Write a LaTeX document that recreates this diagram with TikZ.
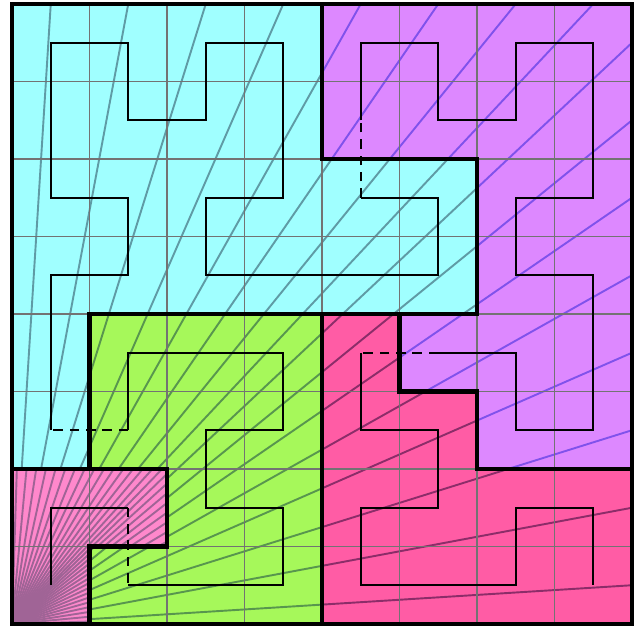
\documentclass[tikz,border=0pt]{standalone}
\usepackage{tikz}

\definecolor{cianreg}{RGB}{160,255,255}
\definecolor{lilareg}{RGB}{221,136,255}
\definecolor{verdereg}{RGB}{166,248,90}
\definecolor{rosareg}{RGB}{255,136,204}
\definecolor{fucsiareg}{RGB}{255,92,165}
\definecolor{ciantrazo}{RGB}{95,155,165}
\definecolor{lilatrazo}{RGB}{128,82,235}
\definecolor{verdetrazo}{RGB}{88,150,78}
\definecolor{rosatrazo}{RGB}{160,100,150}
\definecolor{fucsiatrazo}{RGB}{140,45,105}

% contornos de las regiones
\def\regrosa{(0,0) -- (1,0) -- (1,1) -- (2,1) -- (2,2) -- (0,2) -- cycle}
\def\regverde{(1,0) -- (4,0) -- (4,4) -- (1,4) -- (1,2) -- (2,2) -- (2,1) -- (1,1) -- cycle}
\def\regcian{(0,2) -- (1,2) -- (1,4) -- (6,4) -- (6,6) -- (4,6) -- (4,8) -- (0,8) -- cycle}
\def\reglila{(4,8) -- (8,8) -- (8,2) -- (6,2) -- (6,3) -- (5,3) -- (5,4) -- (6,4) -- (6,6) -- (4,6) -- cycle}
\def\regfucsia{(4,0) -- (8,0) -- (8,2) -- (6,2) -- (6,3) -- (5,3) -- (5,4) -- (4,4) -- cycle}

\begin{document}
\begin{tikzpicture}[
    borde/.style={line width=1.5pt, black},
    camino/.style={line width=0.8pt, black},
    salto/.style={camino, dash pattern=on 3.5pt off 2.5pt},
    rejilla/.style={black!55, line width=0.4pt},
    rayo/.style={line width=0.7pt}]
    \useasboundingbox (-0.155,-0.065) rectangle (8.065,8.052);

    % regiones con su abanico de rayos
    \begin{scope}
        \clip \regrosa;
        \fill[rosareg] \regrosa;
        \foreach \k in {0,...,15}
            \draw[rayo, rosatrazo] (0,0) -- ({(\k+0.5)/2},8) (0,0) -- (8,{(\k+0.5)/2});
    \end{scope}
    \begin{scope}
        \clip \regverde;
        \fill[verdereg] \regverde;
        \foreach \k in {0,...,7}
            \draw[rayo, verdetrazo] (0,0) -- (\k+0.5,8) (0,0) -- (8,\k+0.5);
    \end{scope}
    \begin{scope}
        \clip \regcian;
        \fill[cianreg] \regcian;
        \foreach \k in {0,...,7}
            \draw[rayo, ciantrazo] (0,0) -- (\k+0.5,8) (0,0) -- (8,\k+0.5);
    \end{scope}
    \begin{scope}
        \clip \reglila;
        \fill[lilareg] \reglila;
        \foreach \k in {0,...,7}
            \draw[rayo, lilatrazo] (0,0) -- (\k+0.5,8) (0,0) -- (8,\k+0.5);
    \end{scope}
    \begin{scope}
        \clip \regfucsia;
        \fill[fucsiareg] \regfucsia;
        \foreach \k in {0,...,7}
            \draw[rayo, fucsiatrazo] (0,0) -- (\k+0.5,8) (0,0) -- (8,\k+0.5);
    \end{scope}

    \draw[rejilla] (0,0) grid (8,8);

    \draw[borde] \regrosa;
    \draw[borde] \regverde;
    \draw[borde] \regcian;
    \draw[borde] \reglila;
    \draw[borde] \regfucsia;
    \draw[borde] (0,0) rectangle (8,8);

    % curva de Hilbert
    \draw[camino] (0.5,0.5) -- (0.5,1.5) -- (1.5,1.5);
    \draw[salto] (1.5,1.5) -- (1.5,0.5);
    \draw[camino] (1.5,0.5) -- (3.5,0.5) -- (3.5,1.5) -- (2.5,1.5) -- (2.5,2.5) -- (3.5,2.5)
        -- (3.5,3.5) -- (1.5,3.5) -- (1.5,2.5);
    \draw[salto] (1.5,2.5) -- (0.5,2.5);
    \draw[camino] (0.5,2.5) -- (0.5,4.5) -- (1.5,4.5) -- (1.5,5.5) -- (0.5,5.5) -- (0.5,7.5)
        -- (1.5,7.5) -- (1.5,6.5) -- (2.5,6.5) -- (2.5,7.5) -- (3.5,7.5) -- (3.5,5.5)
        -- (2.5,5.5) -- (2.5,4.5) -- (5.5,4.5) -- (5.5,5.5) -- (4.5,5.5);
    \draw[salto] (4.5,5.5) -- (4.5,6.5);
    \draw[camino] (4.5,6.5) -- (4.5,7.5) -- (5.5,7.5) -- (5.5,6.5) -- (6.5,6.5) -- (6.5,7.5)
        -- (7.5,7.5) -- (7.5,5.5) -- (6.5,5.5) -- (6.5,4.5) -- (7.5,4.5) -- (7.5,2.5)
        -- (6.5,2.5) -- (6.5,3.5) -- (5.5,3.5);
    \draw[salto] (5.5,3.5) -- (4.5,3.5);
    \draw[camino] (4.5,3.5) -- (4.5,2.5) -- (5.5,2.5) -- (5.5,1.5) -- (4.5,1.5) -- (4.5,0.5)
        -- (6.5,0.5) -- (6.5,1.5) -- (7.5,1.5) -- (7.5,0.5);
\end{tikzpicture}
\end{document}
